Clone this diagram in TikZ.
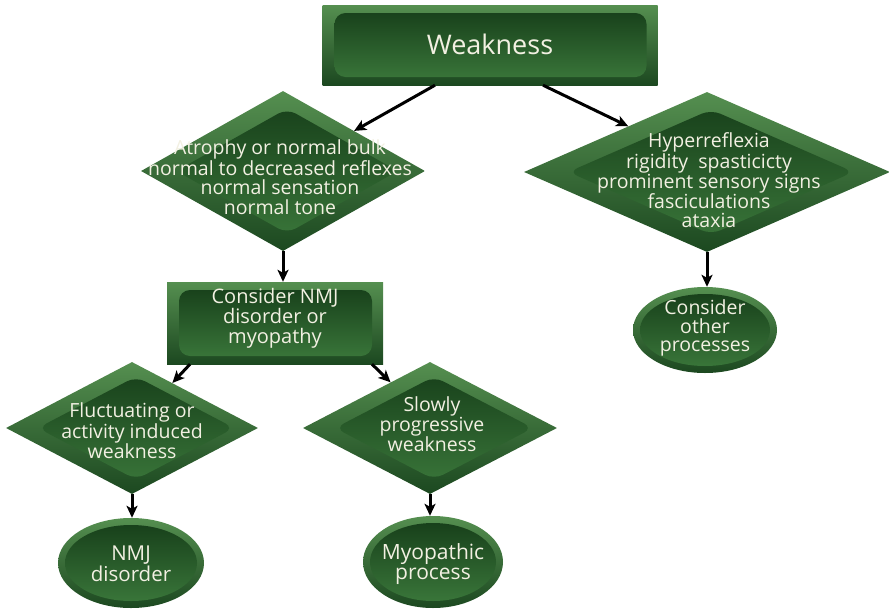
\documentclass[tikz,border=0pt]{standalone}
\usepackage{fontspec}
\newfontfamily\boxfont{Open Sans}
\usetikzlibrary{shapes.geometric,calc,arrows.meta}

\definecolor{rimlight}{HTML}{558F50}
\definecolor{rimdark}{HTML}{1C4820}
\definecolor{coretop}{HTML}{153C18}
\definecolor{corebot}{HTML}{3C7A3C}
\definecolor{ink}{HTML}{F2F0E2}

\tikzset{
  % bevelled rectangle with an inset rounded panel
  rectbox/.style 2 args={rectangle, minimum width=#1, minimum height=#2, inner sep=0pt,
    top color=rimlight, bottom color=rimdark,
    path picture={
      \shade[top color=coretop, bottom color=corebot, rounded corners=11pt]
        ([shift={(12pt,-8pt)}]path picture bounding box.north west) rectangle
        ([shift={(-11pt,8pt)}]path picture bounding box.south east);}},
  % bevelled diamond with an inset rounded diamond
  diam/.style 2 args={diamond, minimum width=#1, minimum height=#2, inner sep=0pt,
    top color=rimlight, bottom color=rimdark,
    path picture={
      \shade[top color=coretop, bottom color=corebot, rounded corners=10pt]
        ($(path picture bounding box.north)!0.11!(path picture bounding box.south)+(4pt,0)$) --
        ($(path picture bounding box.east)!0.11!(path picture bounding box.west)+(4pt,0)$) --
        ($(path picture bounding box.south)!0.11!(path picture bounding box.north)+(4pt,0)$) --
        ($(path picture bounding box.west)!0.11!(path picture bounding box.east)+(4pt,0)$) -- cycle;}},
  % bevelled ellipse with an inset ellipse
  ell/.style 2 args={ellipse, minimum width=#1, minimum height=#2, inner sep=0pt,
    top color=rimlight, bottom color=rimdark,
    path picture={
      \shade[top color=coretop, bottom color=corebot]
        (path picture bounding box.center) ellipse [x radius=#1/2-7pt, y radius=#2/2-7pt];}},
  txt/.style={text=ink, align=center, inner sep=0pt},
  arr/.style={draw=black, line width=3pt, -{Stealth[length=12pt, width=11pt, inset=3pt]}}
}

\begin{document}
\begin{tikzpicture}[x=1pt, y=-1pt]
  \useasboundingbox (0,0) rectangle (889,608);

  % shapes
  \node[rectbox={335pt}{80pt}] (w) at (490,45) {};
  \node[diam={284pt}{160pt}] (ld) at (283,171) {};
  \node[diam={366pt}{160pt}] (rd) at (707,172) {};
  \node[rectbox={216pt}{82pt}] (nmj) at (275,323) {};
  \node[diam={252pt}{132pt}] (fd) at (132,428) {};
  \node[diam={254pt}{132pt}] (sd) at (430,428) {};
  \node[ell={146pt}{90pt}] (e1) at (131,563) {};
  \node[ell={140pt}{92pt}] (e2) at (433,562) {};
  \node[ell={144pt}{86pt}] (e3) at (705,330) {};

  % labels
  \node[txt, font=\boxfont\fontsize{27}{30}\selectfont] (wt) at (490,44) {Weakness};
  \node[txt, font=\boxfont\fontsize{19.5}{19.5}\selectfont] (ldt) at (280,177)
    {Atrophy or normal bulk\\normal to decreased reflexes\\normal sensation\\normal tone};
  \node[txt, font=\boxfont\fontsize{19.5}{18.5}\selectfont] (rdt) at (709,180)
    {Hyperreflexia\\rigidity\ \ spasticicty\\prominent sensory signs\\fasciculations\\ataxia};
  \node[txt, font=\boxfont\fontsize{20}{20}\selectfont] (nmjt) at (275,318)
    {Consider NMJ\\disorder or\\myopathy};
  \node[txt, font=\boxfont\fontsize{19.5}{19}\selectfont] (fdt) at (132,431)
    {Fluctuating or\\activity induced\\weakness};
  \node[txt, font=\boxfont\fontsize{19.5}{17.5}\selectfont] (sdt) at (432,424)
    {Slowly\\progressive\\weakness};
  \node[txt, font=\boxfont\fontsize{20.5}{20.5}\selectfont] (e1t) at (131,564) {NMJ\\disorder};
  \node[txt, font=\boxfont\fontsize{21}{20.5}\selectfont] (e2t) at (433,564) {Myopathic\\process};
  \node[txt, font=\boxfont\fontsize{19.5}{18.5}\selectfont] (e3t) at (705,328)
    {Consider\\other\\processes};

  % connectors
  \draw[arr] ([xshift=-55pt]w.south) -- ($(ld.north)!0.5!(ld.east)$);
  \draw[arr] ([xshift=53pt]w.south) -- ($(rd.north)!0.43!(rd.west)$);
  \draw[arr] (ld.south) -- (ld.south |- nmj.north);
  \draw[arr] ([xshift=-85pt]nmj.south) -- ($(fd.north)!0.32!(fd.east)$);
  \draw[arr] ([xshift=97pt]nmj.south) -- ($(sd.north)!0.31!(sd.west)$);
  \draw[arr] (fd.south) -- (fd.south |- e1.north);
  \draw[arr] (sd.south) -- (sd.south |- e2.north);
  \draw[arr] (rd.south) -- (rd.south |- e3.north);
\end{tikzpicture}
\end{document}
